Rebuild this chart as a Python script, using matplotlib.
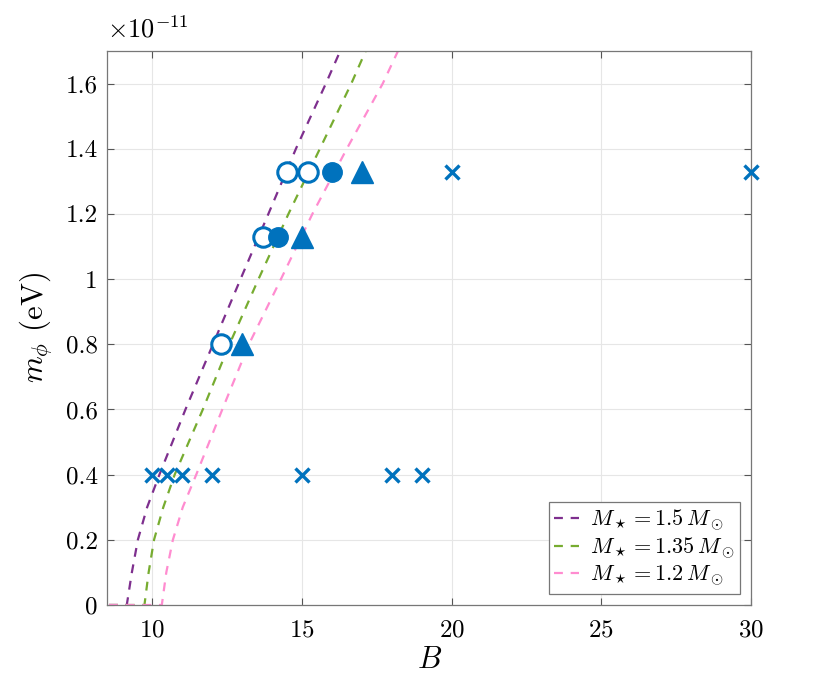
import matplotlib.pyplot as plt
from matplotlib.ticker import FixedLocator

plt.rcParams['font.family'] = 'serif'
plt.rcParams['font.serif'] = ['cmr10']
plt.rcParams['mathtext.fontset'] = 'cm'
plt.rcParams['axes.formatter.use_mathtext'] = True

blue = "#0072BD"

# curve samples (m_phi in units of 1e-11 eV)
m_curve = [0.0, 0.0, 0.1, 0.2, 0.3, 0.4, 0.6, 0.8, 1.0, 1.2, 1.4, 1.6, 1.7]
B_15 = [8.0, 9.15, 9.32, 9.52, 9.83, 10.24, 11.11, 12.03, 12.95, 13.88, 14.8, 15.8, 16.28]
B_135 = [8.0, 9.74, 9.88, 10.06, 10.37, 10.75, 11.69, 12.58, 13.55, 14.55, 15.6, 16.65, 17.13]
B_12 = [8.0, 10.32, 10.47, 10.69, 11.02, 11.47, 12.34, 13.23, 14.3, 15.35, 16.5, 17.7, 18.21]

# simulation points
open_B = [14.5, 15.2, 13.7, 12.3]
open_m = [1.33, 1.33, 1.13, 0.80]
fill_B = [16.0, 14.2]
fill_m = [1.33, 1.13]
tri_B = [17.0, 15.0, 13.0]
tri_m = [1.33, 1.13, 0.80]
cross_B = [20, 30, 10, 10.5, 11, 12, 15, 18, 19]
cross_m = [1.33, 1.33, 0.4, 0.4, 0.4, 0.4, 0.4, 0.4, 0.4]

xticks = [10, 15, 20, 25, 30]
yticks = [0, 0.2, 0.4, 0.6, 0.8, 1.0, 1.2, 1.4, 1.6]
ytick_labels = ["0", "0.2", "0.4", "0.6", "0.8", "1", "1.2", "1.4", "1.6"]

fig = plt.figure(figsize=(8.3, 6.84), dpi=100)
ax = fig.add_axes([0.1293, 0.1155, 0.7755, 0.81])

ax.plot(B_15, m_curve, "--", color="#7E2F8E", lw=1.6, dashes=(4, 3.5),
        label=r"$M_\star = 1.5\,M_\odot$")
ax.plot(B_135, m_curve, "--", color="#77AC30", lw=1.6, dashes=(4, 3.5),
        label=r"$M_\star = 1.35\,M_\odot$")
ax.plot(B_12, m_curve, "--", color="#FF8CD0", lw=1.6, dashes=(4, 3.5),
        label=r"$M_\star = 1.2\,M_\odot$")

ax.plot(open_B, open_m, "o", ms=14, mfc="white", mec=blue, mew=2.2, ls="none")
ax.plot(fill_B, fill_m, "o", ms=14, mfc=blue, mec=blue, ls="none")
ax.plot(tri_B, tri_m, "^", ms=16, mfc=blue, mec=blue, ls="none")
ax.plot(cross_B, cross_m, "x", ms=10, mec=blue, mew=2.4, ls="none",
        clip_on=False, zorder=5)

ax.set_xlim(8.5, 30)
ax.set_ylim(0, 1.7)
ax.xaxis.set_major_locator(FixedLocator(xticks))
ax.set_yticks(yticks)
ax.set_yticklabels(ytick_labels)

ax.grid(True, color="#e6e6e6", lw=0.8)
ax.set_axisbelow(True)
ax.tick_params(direction="in", top=True, right=True, labelsize=18,
               length=5, color="#555555", pad=7)
ax.tick_params(axis="x", pad=10)
for s in ax.spines.values():
    s.set_color("#777777")
    s.set_linewidth(0.9)

ax.set_xlabel(r"$B$", fontsize=22, labelpad=4)
ax.set_ylabel(r"$m_\phi$ (eV)", fontsize=22, labelpad=8)
ax.text(0.0, 1.015, r"$\times 10^{-11}$", transform=ax.transAxes,
        fontsize=19, ha="left", va="bottom")

leg = ax.legend(loc="lower right", fontsize=16, handlelength=1.1,
                handletextpad=0.5, borderpad=0.25, labelspacing=0.1,
                fancybox=False, framealpha=1, borderaxespad=0.5)
leg.get_frame().set_edgecolor("#777777")
leg.get_frame().set_linewidth(0.9)

fig.savefig("out.png", dpi=100)
